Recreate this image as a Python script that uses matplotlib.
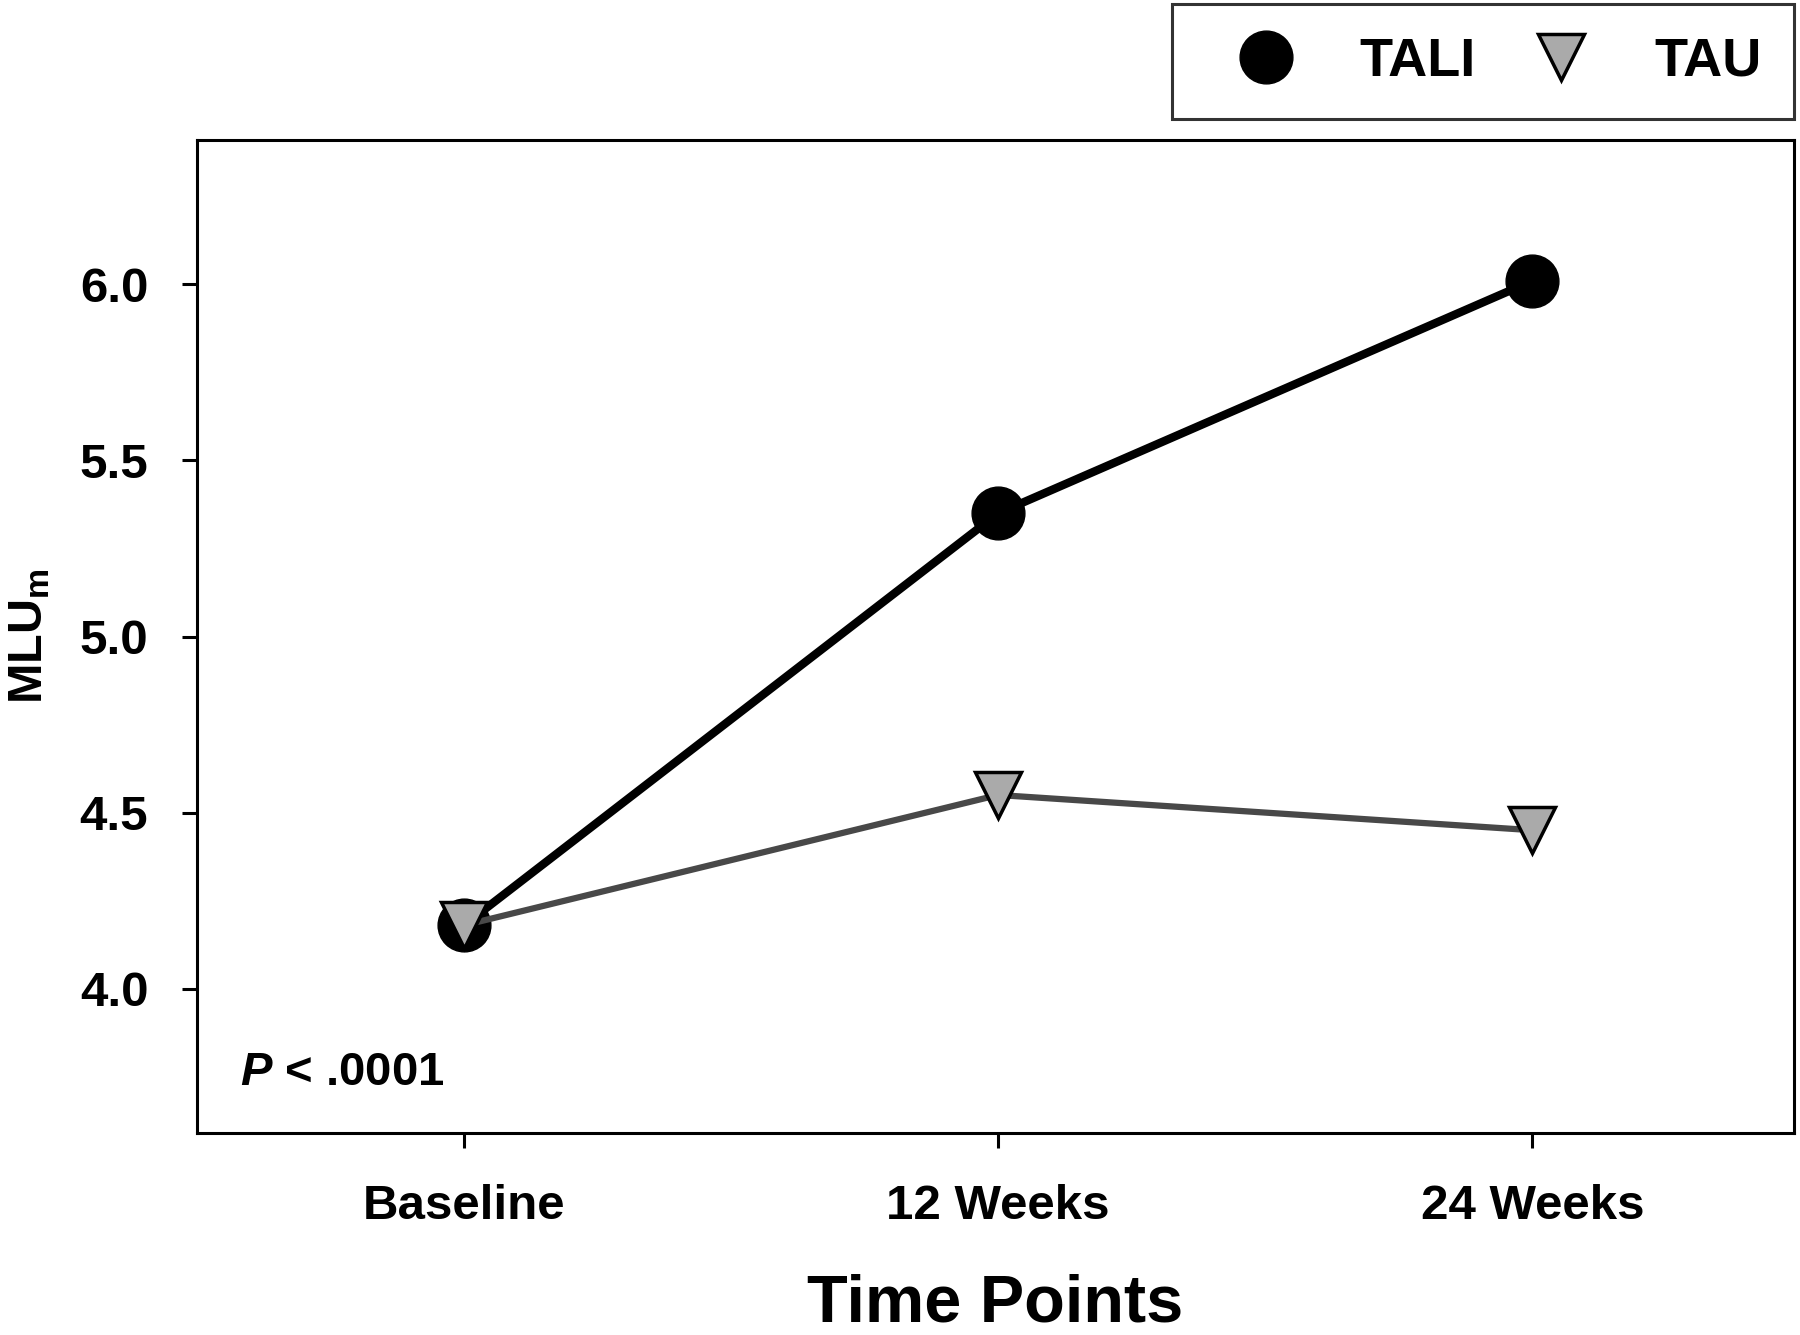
import numpy as np
import matplotlib
matplotlib.use("Agg")
import matplotlib.pyplot as plt

plt.rcParams['font.family'] = ['Liberation Sans', 'DejaVu Sans']
plt.rcParams['font.weight'] = 'bold'
plt.rcParams['mathtext.fontset'] = 'custom'
plt.rcParams['mathtext.rm'] = 'Liberation Sans:bold'
plt.rcParams['mathtext.bf'] = 'Liberation Sans:bold'
plt.rcParams['mathtext.it'] = 'Liberation Sans:bold:italic'

# data
time_points = ["Baseline", "12 Weeks", "24 Weeks"]
tali = [4.18, 5.35, 6.01]
tau = [4.18, 4.55, 4.45]
yticks = [4.0, 4.5, 5.0, 5.5, 6.0]

fig = plt.figure(figsize=(18, 13.35), dpi=100)
ax = fig.add_axes([0.1094, 0.1513, 0.8873, 0.7438])

x = np.arange(len(time_points))
ax.plot(x, tali, color="black", lw=6, marker="o", ms=38,
        mfc="black", mec="black", label="TALI", zorder=3)
ax.plot(x, tau, color="#484848", lw=4.5, marker="v", ms=33,
        mfc="#aaaaaa", mec="black", mew=2.5, label="TAU", zorder=4)

ax.set_xlim(-0.5, 2.49)
ax.set_ylim(3.59, 6.41)
ax.set_xticks(x)
ax.set_xticklabels(time_points)
ax.set_yticks(yticks)
ax.set_yticklabels([f"{v:.1f}" for v in yticks])

for s in ax.spines.values():
    s.set_linewidth(2.2)
ax.tick_params(axis="both", direction="out", length=11, width=2.2,
               labelsize=35.5, top=False, right=False)
ax.tick_params(axis="y", pad=24)
ax.tick_params(axis="x", pad=26)

ax.set_xlabel("Time Points", fontsize=48, fontweight="bold", labelpad=32)
ax.set_ylabel(r"$\mathbf{MLU}_\mathbf{m}$", fontsize=35, labelpad=20)

ax.text(0.027, 0.06, r"$\mathit{P}$ < .0001", transform=ax.transAxes,
        fontsize=34, fontweight="bold", ha="left", va="center")

leg = fig.legend(loc="upper right", bbox_to_anchor=(0.9967, 0.997), ncol=2,
                 frameon=True, fancybox=False, prop={"size": 39, "weight": "bold"},
                 handletextpad=0.6, columnspacing=0.45, borderpad=0.6,
                 handlelength=2.25, borderaxespad=0)
leg.get_frame().set_edgecolor("black")
leg.get_frame().set_linewidth(2.2)
for h in leg.legend_handles:
    h.set_linestyle("none")

fig.savefig("out.png", dpi=100)
